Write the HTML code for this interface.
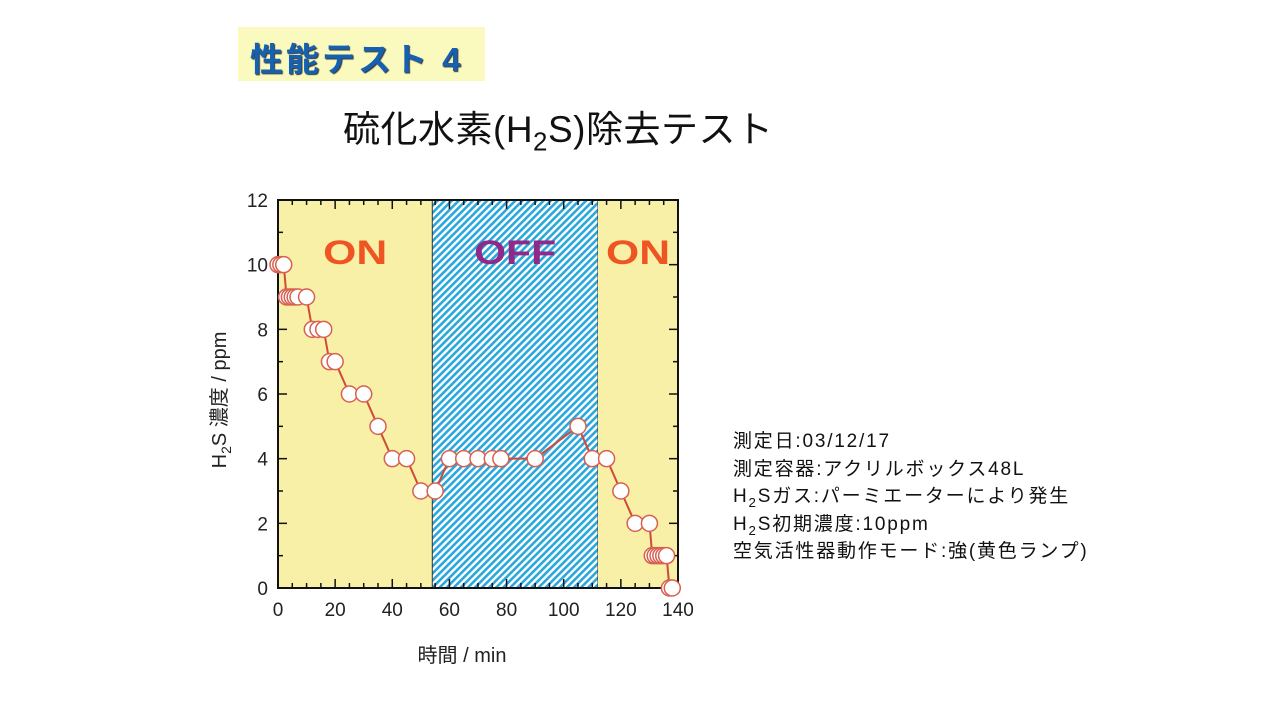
<!DOCTYPE html>
<html><head><meta charset="utf-8">
<style>
html,body{margin:0;padding:0;background:#fff;}
body{width:1280px;height:720px;position:relative;overflow:hidden;font-family:"Liberation Sans","Noto Sans CJK JP",sans-serif;}
#tbox{position:absolute;left:238px;top:27px;width:247px;height:54px;background:#fafabe;}
#tbox span{position:absolute;left:12px;top:6px;font-size:33px;font-weight:bold;color:#1560b0;text-shadow:1px 1px 1px #333;letter-spacing:3px;}
#title{position:absolute;left:343px;top:99px;font-size:37px;color:#111;letter-spacing:0.5px;}
#info{position:absolute;left:733px;top:428px;font-size:19px;line-height:27.5px;color:#111;letter-spacing:1.8px;white-space:nowrap;}
sub{font-size:0.7em;line-height:0;}
</style></head><body>
<div id="tbox"><span>性能テスト 4</span></div>
<div id="title">硫化水素(H<sub>2</sub>S)除去テスト</div>
<div id="info">
測定日:03/12/17<br>測定容器:アクリルボックス48L<br>H<sub>2</sub>Sガス:パーミエーターにより発生<br>H<sub>2</sub>S初期濃度:10ppm<br>空気活性器動作モード:強(黄色ランプ)
</div>
<svg id="chart" width="1280" height="720" style="position:absolute;left:0;top:0">
<defs><pattern id="hatch" width="5" height="5" patternUnits="userSpaceOnUse" patternTransform="rotate(-45)">
<rect width="5" height="5" fill="#fff"/><rect width="5" height="2.6" fill="#2aa7dc"/></pattern></defs>
<g id="g"></g>
</svg>
<script>
const times=[0,1,2,3,4,5,6,7,10,12,14,16,18,20,25,30,35,40,45,50,55,60,65,70,75,78,90,105,110,115,120,125,130,131,132,133,134,135,136,137,138];
const conc=[10,10,10,9,9,9,9,9,9,8,8,8,7,7,6,6,5,4,4,3,3,4,4,4,4,4,4,5,4,4,3,2,2,1,1,1,1,1,1,0,0];
const xTicks=[0,20,40,60,80,100,120,140];
const yTicks=[0,2,4,6,8,10,12];
const phases=[[0,54,'ON'],[54,112,'OFF'],[112,140,'ON']];
const X0=278,X1=678,Y0=588,Y1=200;
const sx=v=>X0+(v-0)/140*(X1-X0), sy=v=>Y0-v/12*(Y0-Y1);
const g=document.getElementById('g');const NS='http://www.w3.org/2000/svg';
function mk(t,a,txt){const e=document.createElementNS(NS,t);for(const k in a)e.setAttribute(k,a[k]);if(txt!=null)e.textContent=txt;g.appendChild(e);return e;}
phases.forEach(p=>{const r=mk('rect',{x:sx(p[0]),y:Y1,width:sx(p[1])-sx(p[0]),height:Y0-Y1,fill:p[2]=='OFF'?'url(#hatch)':'#f8f0a6',stroke:p[2]=='OFF'?'#333':'none','stroke-width':1});

const t=mk('text',{x:(sx(p[0])+sx(p[1]))/2,y:264,'text-anchor':'middle','font-size':34,'font-weight':'bold',textLength:p[2]=='OFF'?82:64,lengthAdjust:'spacingAndGlyphs',fill:p[2]=='OFF'?'#8e2a8a':'#ee5522'},p[2]);
});
const fr=mk('rect',{x:X0,y:Y1,width:X1-X0,height:Y0-Y1,fill:'none',stroke:'#111','stroke-width':2});

for(let v=0;v<=140;v+=5){const M=v%20==0;mk('line',{x1:sx(v),x2:sx(v),y1:Y0,y2:Y0-(M?9:5),stroke:'#111','stroke-width':1.5});mk('line',{x1:sx(v),x2:sx(v),y1:Y1,y2:Y1+(M?9:5),stroke:'#111','stroke-width':1.5});}
for(let v=0;v<=12;v+=1){const M=v%2==0;mk('line',{x1:X0,x2:X0+(M?9:5),y1:sy(v),y2:sy(v),stroke:'#111','stroke-width':1.5});mk('line',{x1:X1,x2:X1-(M?9:5),y1:sy(v),y2:sy(v),stroke:'#111','stroke-width':1.5});}
xTicks.forEach(v=>{const t=mk('text',{x:sx(v),y:616,'text-anchor':'middle','font-size':19,fill:'#222'},v);});
yTicks.forEach(v=>{const t=mk('text',{x:268,y:sy(v)+7,'text-anchor':'end','font-size':19,fill:'#222'},v);});
const xt=mk('text',{x:462,y:662,'text-anchor':'middle','font-size':20,fill:'#222'},'時間 / min');
const yt=mk('text',{x:0,y:0,transform:'translate(226,400) rotate(-90)','text-anchor':'middle','font-size':20,fill:'#222'});
yt.innerHTML='H<tspan font-size="14" dy="5">2</tspan><tspan dy="-5">S 濃度 / ppm</tspan>';

const ln=mk('polyline',{points:times.map((t,i)=>sx(t)+','+sy(conc[i])).join(' '),fill:'none',stroke:'#d04a3a','stroke-width':2});

times.forEach((t,i)=>{const c=mk('circle',{cx:sx(t),cy:sy(conc[i]),r:8,fill:'#fff',stroke:'#d86050','stroke-width':1.5});
});
</script>
</body></html>
